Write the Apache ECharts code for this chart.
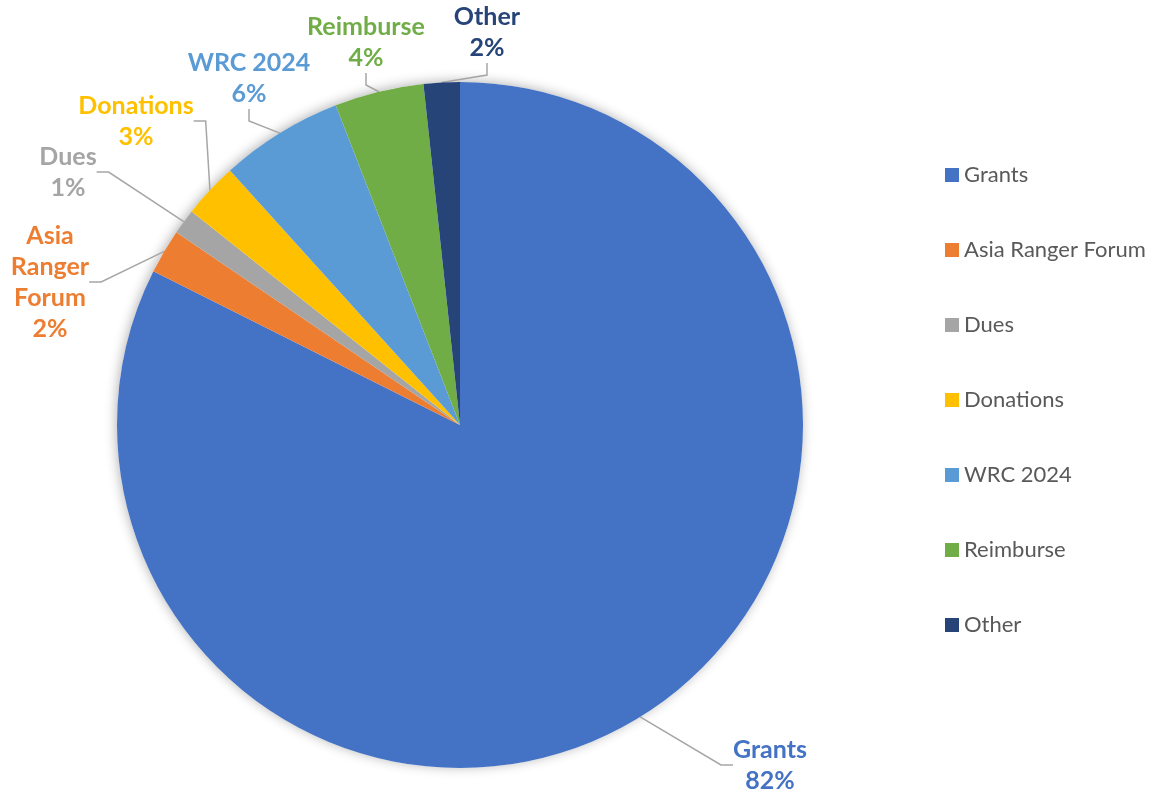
<!DOCTYPE html>
<html>
<head>
<meta charset="utf-8">
<script src="https://cdn.jsdelivr.net/npm/echarts@6/dist/echarts.min.js"></script>
<style>
html,body{margin:0;padding:0;background:#fff;}
#chart{width:1154px;height:797px;}
</style>
</head>
<body>
<div id="chart"></div>
<script>
// ---- data ----
const categories = ['Grants', 'Asia Ranger Forum', 'Dues', 'Donations', 'WRC 2024', 'Reimburse', 'Other'];
const values = [82.4, 2.1, 1.2, 2.6, 5.8, 4.2, 1.7];

// ---- styles ----
const colors = ['#4472C4', '#ED7D31', '#A5A5A5', '#FFC000', '#5B9BD5', '#70AD47', '#264478'];
// label block centres (manual Excel label placement)
const labelPos = [[770, 765], [50, 282], [68, 172], [136, 121], [249, 78], [366, 42], [487, 32]];
const FONT = 'Lato, "Open Sans", sans-serif';

const total = values.reduce((a, b) => a + b, 0);
const chart = echarts.init(document.getElementById('chart'), null, {renderer: 'canvas'});

const pieData = categories.map((c, i) => ({
  name: c,
  value: values[i],
  itemStyle: {color: colors[i]},
  label: {color: colors[i]}
}));

chart.setOption({
  backgroundColor: '#ffffff',
  animation: false,
  legend: {
    data: categories,
    orient: 'vertical',
    left: 940,
    top: 159,
    icon: 'rect',
    itemWidth: 14,
    itemHeight: 14,
    itemGap: 53,
    textStyle: {fontFamily: FONT, fontSize: 22, lineHeight: 22, color: '#595959'}
  },
  series: [
    {
      type: 'pie',
      silent: true,
      z: 1,
      center: [460, 425],
      radius: 343,
      label: {show: false},
      labelLine: {show: false},
      itemStyle: {color: '#ffffff', shadowBlur: 12, shadowColor: 'rgba(0,0,0,0.3)', shadowOffsetX: -1, shadowOffsetY: -1},
      data: [{name: '', value: total}]
    },
    {
      type: 'pie',
      z: 2,
      center: [460, 425],
      radius: 343,
      startAngle: 90,
      clockwise: true,
      avoidLabelOverlap: false,
      data: pieData,
      label: {
        show: true,
        position: 'outside',
        fontFamily: FONT,
        fontWeight: 'bold',
        fontSize: 25,
        lineHeight: 31,
        formatter: function (p) {
          const n = p.name === 'Asia Ranger Forum' ? p.name.split(' ').join('\n') : p.name;
          return n + '\n' + Math.round(p.percent) + '%';
        }
      },
      labelLine: {
        show: true,
        length: 15,
        length2: 12,
        lineStyle: {color: '#A6A6A6', width: 1.5}
      },
      labelLayout: function (params) {
        const pos = labelPos[params.dataIndex];
        return {x: pos[0], y: pos[1], align: 'center', verticalAlign: 'middle'};
      },
      itemStyle: {borderWidth: 0}
    }
  ]
});
</script>
</body>
</html>
